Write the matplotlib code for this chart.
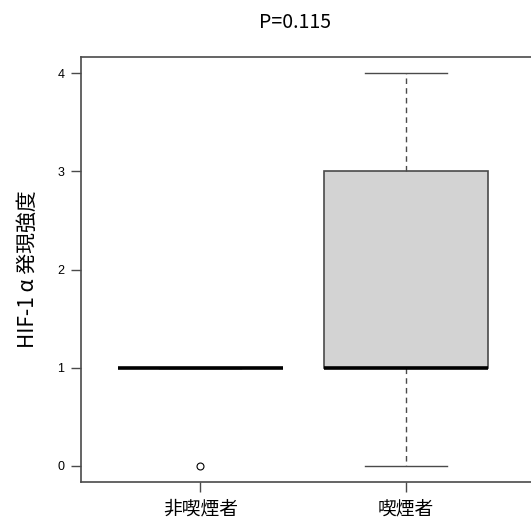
import matplotlib
matplotlib.use("Agg")
import matplotlib.pyplot as plt

plt.rcParams['font.family'] = ['Noto Sans CJK JP', 'DejaVu Sans']

# box statistics
groups = ['非喫煙者', '喫煙者']
q1 = [1, 1]
medians = [1, 1]
q3 = [1, 3]
whisker_low = [1, 0]
whisker_high = [1, 4]
outliers = [[0], []]
title = 'P=0.115'
ylabel = 'HIF-1 α 発現強度'
yticks = [0, 1, 2, 3, 4]

W, H = 531, 521
fig = plt.figure(figsize=(W / 100, H / 100), dpi=100)
left, right, top, bottom = 81, 533, 57, 482
ax = fig.add_axes([left / W, 1 - bottom / H, (right - left) / W, (bottom - top) / H])

stats = []
for i, name in enumerate(groups):
    stats.append({'label': name, 'q1': q1[i], 'med': medians[i], 'q3': q3[i],
                  'whislo': whisker_low[i], 'whishi': whisker_high[i],
                  'fliers': outliers[i]})

edge = '#4a4a4a'
ax.bxp(stats, positions=range(1, len(groups) + 1), widths=0.8, patch_artist=True,
       boxprops=dict(facecolor='#d3d3d3', edgecolor=edge, linewidth=1.2),
       medianprops=dict(color='black', linewidth=2.6, solid_capstyle='butt'),
       whiskerprops=dict(color=edge, linewidth=1.0, linestyle=(0, (4, 3))),
       capprops=dict(color=edge, linewidth=1.0),
       capwidths=0.4,
       flierprops=dict(marker='o', markersize=5, markerfacecolor='white',
                       markeredgecolor='black', markeredgewidth=0.8))

# R-like limits with 4% padding
ax.set_ylim(-0.163, 4.163)
ax.set_xlim(0.42, 0.42 + (right - left) / 205.7)

ax.set_yticks(yticks)
ax.set_yticklabels([str(t) for t in yticks], family=['Liberation Sans'], fontsize=9)
ax.set_xticks(range(1, len(groups) + 1))
ax.set_xticklabels(groups, fontsize=13.5)
ax.tick_params(axis='both', direction='out', length=7, width=1.0, color=edge)
ax.tick_params(axis='x', pad=5)
ax.tick_params(axis='y', pad=5)
for s in ax.spines.values():
    s.set_color(edge)
    s.set_linewidth(1.2)

ax.set_ylabel(ylabel, fontsize=15)
ax.yaxis.set_label_coords(-42 / (right - left), 0.5)

fig.text(295 / W, 1 - 22 / H, title, ha='center', va='center', fontsize=14)

fig.savefig('out.png', dpi=100)
